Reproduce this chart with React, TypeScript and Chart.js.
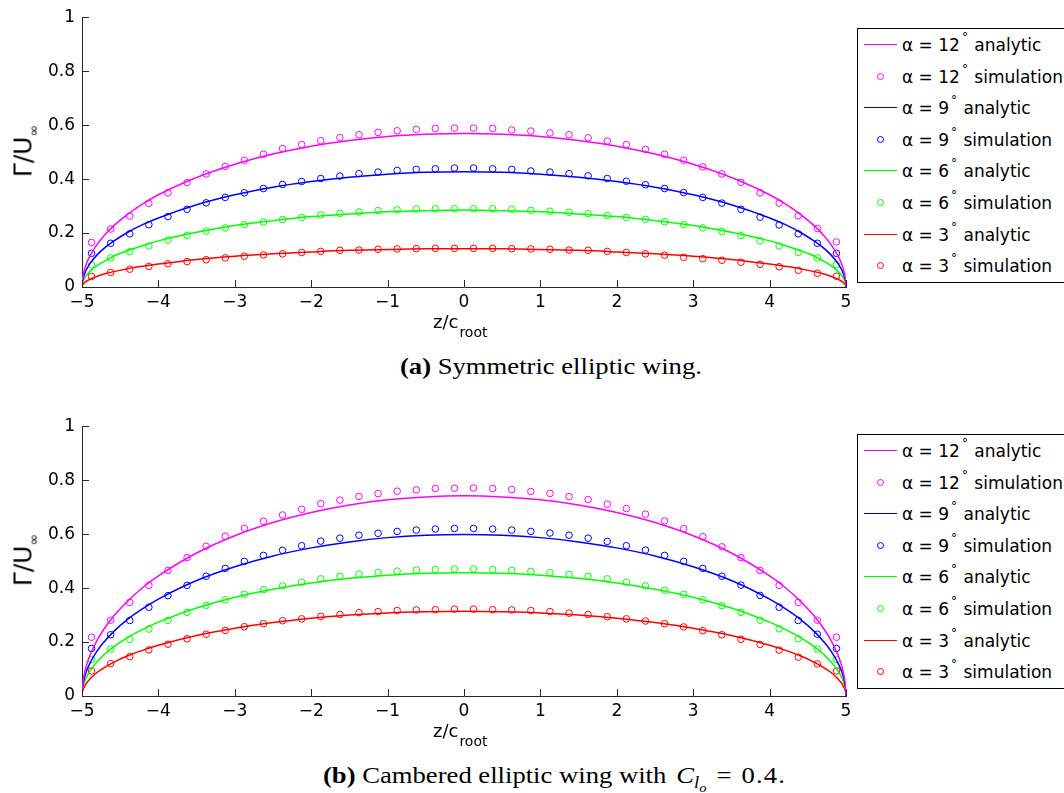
import React, { useEffect, useRef } from "react";
import { Chart, registerables } from "chart.js";

Chart.register(...registerables);

// Spanwise stations of the simulation (lifting-line) points
const Z_SIM = [
  -4.875, -4.625, -4.375, -4.125, -3.875, -3.625, -3.375, -3.125, -2.875, -2.625,
  -2.375, -2.125, -1.875, -1.625, -1.375, -1.125, -0.875, -0.625, -0.375, -0.125,
  0.125, 0.375, 0.625, 0.875, 1.125, 1.375, 1.625, 1.875, 2.125, 2.375,
  2.625, 2.875, 3.125, 3.375, 3.625, 3.875, 4.125, 4.375, 4.625, 4.875,
];

// Spanwise stations of the analytic curves (denser near the tips)
const Z_LINE = [
  -5, -4.998, -4.99, -4.95, -4.9, -4.8, -4.7, -4.6, -4.4, -4.2, -4, -3.5, -3, -2.5, -2, -1.5, -1, -0.5,
  0,
  0.5, 1, 1.5, 2, 2.5, 3, 3.5, 4, 4.2, 4.4, 4.6, 4.7, 4.8, 4.9, 4.95, 4.99, 4.998, 5,
];

const X_TICKS = [-5, -4, -3, -2, -1, 0, 1, 2, 3, 4, 5];
const Y_TICKS = [0, 0.2, 0.4, 0.6, 0.8, 1];
const ANGLES = [12, 9, 6, 3];

// (a) symmetric elliptic wing — analytic
const symLine12 = [0, 0.016, 0.036, 0.08, 0.113, 0.159, 0.194, 0.223, 0.27, 0.309, 0.342, 0.406, 0.455, 0.493, 0.522, 0.543, 0.558, 0.566, 0.569, 0.566, 0.558, 0.543, 0.522, 0.493, 0.455, 0.406, 0.342, 0.309, 0.27, 0.223, 0.194, 0.159, 0.113, 0.08, 0.036, 0.016, 0];
const symLine9 = [0, 0.012, 0.027, 0.06, 0.085, 0.12, 0.146, 0.167, 0.203, 0.232, 0.256, 0.305, 0.342, 0.37, 0.391, 0.407, 0.418, 0.425, 0.427, 0.425, 0.418, 0.407, 0.391, 0.37, 0.342, 0.305, 0.256, 0.232, 0.203, 0.167, 0.146, 0.12, 0.085, 0.06, 0.027, 0.012, 0];
const symLine6 = [0, 0.008, 0.018, 0.04, 0.057, 0.08, 0.097, 0.112, 0.135, 0.154, 0.171, 0.203, 0.228, 0.246, 0.261, 0.271, 0.279, 0.283, 0.285, 0.283, 0.279, 0.271, 0.261, 0.246, 0.228, 0.203, 0.171, 0.154, 0.135, 0.112, 0.097, 0.08, 0.057, 0.04, 0.018, 0.008, 0];
const symLine3 = [0, 0.004, 0.009, 0.02, 0.028, 0.04, 0.049, 0.056, 0.068, 0.077, 0.085, 0.102, 0.114, 0.123, 0.13, 0.136, 0.139, 0.142, 0.142, 0.142, 0.139, 0.136, 0.13, 0.123, 0.114, 0.102, 0.085, 0.077, 0.068, 0.056, 0.049, 0.04, 0.028, 0.02, 0.009, 0.004, 0];

// (a) symmetric elliptic wing — simulation
const symSim12 = [0.165, 0.215, 0.263, 0.31, 0.349, 0.387, 0.419, 0.447, 0.47, 0.492, 0.513, 0.528, 0.542, 0.554, 0.564, 0.573, 0.579, 0.584, 0.588, 0.589, 0.589, 0.588, 0.582, 0.578, 0.571, 0.564, 0.553, 0.541, 0.528, 0.51, 0.492, 0.47, 0.445, 0.419, 0.388, 0.349, 0.311, 0.264, 0.217, 0.167];
const symSim9 = [0.125, 0.162, 0.197, 0.231, 0.261, 0.288, 0.312, 0.332, 0.349, 0.365, 0.38, 0.391, 0.402, 0.411, 0.42, 0.426, 0.432, 0.436, 0.438, 0.441, 0.441, 0.438, 0.436, 0.43, 0.426, 0.42, 0.412, 0.402, 0.392, 0.379, 0.365, 0.35, 0.332, 0.311, 0.288, 0.259, 0.23, 0.197, 0.162, 0.125];
const symSim6 = [0.082, 0.108, 0.131, 0.152, 0.174, 0.191, 0.207, 0.219, 0.231, 0.241, 0.25, 0.258, 0.267, 0.273, 0.278, 0.283, 0.286, 0.289, 0.29, 0.29, 0.29, 0.29, 0.288, 0.284, 0.281, 0.277, 0.272, 0.265, 0.258, 0.251, 0.242, 0.231, 0.219, 0.206, 0.19, 0.171, 0.152, 0.128, 0.108, 0.083];
const symSim3 = [0.039, 0.054, 0.066, 0.076, 0.086, 0.094, 0.101, 0.108, 0.114, 0.119, 0.123, 0.128, 0.132, 0.136, 0.137, 0.14, 0.141, 0.142, 0.143, 0.143, 0.143, 0.143, 0.142, 0.141, 0.14, 0.137, 0.136, 0.132, 0.128, 0.123, 0.118, 0.11, 0.105, 0.099, 0.092, 0.084, 0.075, 0.062, 0.051, 0.04];

// (b) cambered elliptic wing — analytic
const camLine12 = [0, 0.021, 0.047, 0.105, 0.148, 0.208, 0.253, 0.291, 0.352, 0.403, 0.445, 0.53, 0.594, 0.643, 0.68, 0.708, 0.727, 0.738, 0.742, 0.738, 0.727, 0.708, 0.68, 0.643, 0.594, 0.53, 0.445, 0.403, 0.352, 0.291, 0.253, 0.208, 0.148, 0.105, 0.047, 0.021, 0];
const camLine9 = [0, 0.017, 0.038, 0.085, 0.119, 0.168, 0.204, 0.235, 0.285, 0.325, 0.359, 0.428, 0.479, 0.519, 0.549, 0.571, 0.587, 0.596, 0.599, 0.596, 0.587, 0.571, 0.549, 0.519, 0.479, 0.428, 0.359, 0.325, 0.285, 0.235, 0.204, 0.168, 0.119, 0.085, 0.038, 0.017, 0];
const camLine6 = [0, 0.013, 0.029, 0.064, 0.091, 0.128, 0.156, 0.179, 0.217, 0.248, 0.274, 0.326, 0.366, 0.396, 0.419, 0.436, 0.448, 0.455, 0.457, 0.455, 0.448, 0.436, 0.419, 0.396, 0.366, 0.326, 0.274, 0.248, 0.217, 0.179, 0.156, 0.128, 0.091, 0.064, 0.029, 0.013, 0];
const camLine3 = [0, 0.009, 0.02, 0.044, 0.062, 0.088, 0.107, 0.123, 0.149, 0.17, 0.188, 0.224, 0.251, 0.272, 0.288, 0.3, 0.308, 0.312, 0.314, 0.312, 0.308, 0.3, 0.288, 0.272, 0.251, 0.224, 0.188, 0.17, 0.149, 0.123, 0.107, 0.088, 0.062, 0.044, 0.02, 0.009, 0];

// (b) cambered elliptic wing — simulation
const camSim12 = [0.218, 0.281, 0.347, 0.41, 0.465, 0.513, 0.555, 0.592, 0.622, 0.648, 0.671, 0.692, 0.713, 0.726, 0.74, 0.75, 0.759, 0.764, 0.769, 0.77, 0.771, 0.769, 0.765, 0.758, 0.751, 0.739, 0.728, 0.711, 0.695, 0.674, 0.649, 0.62, 0.59, 0.553, 0.513, 0.465, 0.41, 0.347, 0.281, 0.218];
const camSim9 = [0.176, 0.227, 0.28, 0.329, 0.372, 0.41, 0.444, 0.473, 0.499, 0.521, 0.54, 0.557, 0.574, 0.585, 0.596, 0.603, 0.61, 0.615, 0.619, 0.621, 0.621, 0.619, 0.615, 0.61, 0.604, 0.596, 0.585, 0.573, 0.557, 0.541, 0.521, 0.499, 0.473, 0.444, 0.411, 0.373, 0.329, 0.28, 0.229, 0.176];
const camSim6 = [0.135, 0.174, 0.21, 0.248, 0.28, 0.31, 0.336, 0.357, 0.377, 0.394, 0.408, 0.422, 0.434, 0.444, 0.452, 0.458, 0.463, 0.467, 0.469, 0.471, 0.471, 0.469, 0.466, 0.462, 0.457, 0.451, 0.444, 0.434, 0.422, 0.408, 0.392, 0.377, 0.357, 0.335, 0.31, 0.281, 0.249, 0.212, 0.174, 0.135];
const camSim3 = [0.093, 0.12, 0.146, 0.171, 0.192, 0.212, 0.229, 0.243, 0.257, 0.268, 0.279, 0.286, 0.295, 0.302, 0.309, 0.313, 0.317, 0.319, 0.32, 0.322, 0.322, 0.32, 0.319, 0.317, 0.313, 0.307, 0.302, 0.294, 0.286, 0.278, 0.268, 0.256, 0.242, 0.227, 0.21, 0.191, 0.17, 0.144, 0.119, 0.093];

const COLORS = ["#ff00ff", "#0000ff", "#00ff00", "#ff0000"];
const AXIS_COLOR = "#262626";
const SANS = '"DejaVu Sans", sans-serif';
const SERIF = '"Liberation Serif", "Times New Roman", serif';

const CANVAS_W = 860;
const CANVAS_H = 330;

const toXY = (xs: number[], ys: number[]) => xs.map((x, i) => ({ x, y: ys[i] }));

// MATLAB-style tick marks pointing into the axes
const inwardTicks = {
  id: "inwardTicks",
  afterDraw(chart: any) {
    const { ctx, chartArea, scales } = chart;
    ctx.save();
    ctx.strokeStyle = AXIS_COLOR;
    ctx.lineWidth = 1;
    ctx.beginPath();
    X_TICKS.forEach((v) => {
      const px = Math.round(scales.x.getPixelForValue(v)) + 0.5;
      ctx.moveTo(px, chartArea.bottom);
      ctx.lineTo(px, chartArea.bottom - 7);
    });
    Y_TICKS.forEach((v) => {
      const py = Math.round(scales.y.getPixelForValue(v)) + 0.5;
      ctx.moveTo(chartArea.left, py);
      ctx.lineTo(chartArea.left + 7, py);
    });
    ctx.stroke();
    ctx.restore();
  },
};

function WingChart({ lines, sims }: { lines: number[][]; sims: number[][] }) {
  const ref = useRef<HTMLCanvasElement>(null);
  useEffect(() => {
    if (!ref.current) return;
    const datasets: any[] = [];
    lines.forEach((ys, i) => {
      datasets.push({
        type: "line",
        data: toXY(Z_LINE, ys),
        borderColor: COLORS[i],
        borderWidth: 1.5,
        pointRadius: 0,
        cubicInterpolationMode: "monotone",
        fill: false,
      });
      datasets.push({
        type: "line",
        data: toXY(Z_SIM, sims[i]),
        showLine: false,
        borderColor: COLORS[i],
        backgroundColor: "rgba(0,0,0,0)",
        pointStyle: "circle",
        pointRadius: 3.3,
        pointBorderWidth: 1,
        pointBorderColor: COLORS[i],
        pointBackgroundColor: "rgba(0,0,0,0)",
      });
    });
    const tickFont = { family: SANS, size: 17 };
    const chart = new Chart(ref.current, {
      type: "line",
      data: { datasets },
      plugins: [inwardTicks],
      options: {
        animation: false,
        responsive: false,
        events: [],
        layout: { padding: { left: 0, right: 14, top: 15, bottom: 0 } },
        plugins: { legend: { display: false }, tooltip: { enabled: false } },
        scales: {
          x: {
            type: "linear",
            min: -5,
            max: 5,
            afterBuildTicks: (s: any) => {
              s.ticks = X_TICKS.map((v) => ({ value: v }));
            },
            afterFit: (s: any) => {
              s.height = 43;
            },
            ticks: {
              font: tickFont,
              color: "#000",
              padding: 5,
              maxRotation: 0,
              callback: (v: any) => (Number(v) < 0 ? "\u2212" + Math.abs(Number(v)) : String(v)),
            },
            grid: { display: false, drawTicks: false },
            border: { display: true, color: AXIS_COLOR, width: 1 },
          },
          y: {
            type: "linear",
            min: 0,
            max: 1,
            afterBuildTicks: (s: any) => {
              s.ticks = Y_TICKS.map((v) => ({ value: v }));
            },
            afterFit: (s: any) => {
              s.width = 82;
            },
            ticks: {
              font: tickFont,
              color: "#000",
              padding: 7,
              callback: (v: any) => String(Number(v)),
            },
            grid: { display: false, drawTicks: false },
            border: { display: true, color: AXIS_COLOR, width: 1 },
          },
        },
      } as any,
    });
    return () => chart.destroy();
  }, [lines, sims]);
  return <canvas ref={ref} width={CANVAS_W} height={CANVAS_H} style={{ display: "block", width: CANVAS_W, height: CANVAS_H }} />;
}

function Legend({ top }: { top: number }) {
  const rowH = 31.6;
  const rows: React.ReactNode[] = [];
  ANGLES.forEach((a, i) => {
    ["analytic", "simulation"].forEach((kind, k) => {
      const idx = i * 2 + k;
      const rowTop = Math.round(idx * rowH);
      rows.push(
        <div key={idx} style={{ position: "absolute", left: 0, top: rowTop, height: 32, width: "100%" }}>
          {kind === "analytic" ? (
            <div style={{ position: "absolute", left: 6, top: 15, width: 33, height: 1, background: COLORS[i] }} />
          ) : (
            <div
              style={{
                position: "absolute",
                left: 19,
                top: 12,
                width: 7,
                height: 7,
                boxSizing: "border-box",
                border: `1px solid ${COLORS[i]}`,
                borderRadius: "50%",
              }}
            />
          )}
          <div
            style={{
              position: "absolute",
              left: 44,
              top: 0,
              height: 32,
              lineHeight: "32px",
              fontFamily: SANS,
              fontSize: 17,
              whiteSpace: "nowrap",
              color: "#000",
            }}
          >
            α = {a}
            <span style={{ fontSize: 12, position: "relative", top: -10, marginLeft: 2, marginRight: 1 }}>°</span> {kind}
          </div>
        </div>
      );
    });
  });
  return (
    <div
      style={{
        position: "absolute",
        left: 857,
        top,
        width: 230,
        height: Math.round(rowH * 8) + 2,
        border: "1px solid #000",
        boxSizing: "border-box",
        background: "#fff",
      }}
    >
      {rows}
    </div>
  );
}

function AxisTitles({ offset }: { offset: number }) {
  return (
    <>
      <div
        style={{
          position: "absolute",
          left: 25,
          top: 151 + offset,
          transform: "translate(-50%, -50%) rotate(-90deg)",
          fontFamily: SANS,
          fontSize: 25,
          lineHeight: "25px",
          whiteSpace: "nowrap",
          color: "#000",
        }}
      >
        Γ/U<span style={{ fontSize: 14, position: "relative", top: 7 }}>∞</span>
      </div>
      <div
        style={{
          position: "absolute",
          left: 433,
          top: 313 + offset,
          fontFamily: SANS,
          fontSize: 18,
          lineHeight: "18px",
          whiteSpace: "nowrap",
          color: "#000",
        }}
      >
        z/c<span style={{ fontSize: 14, position: "relative", top: 9, marginLeft: 1 }}>root</span>
      </div>
    </>
  );
}

export default function App() {
  const off = 409;
  return (
    <div style={{ position: "absolute", left: 0, top: 0, width: 1064, height: 793, overflow: "hidden", background: "#fff" }}>
      <div style={{ position: "absolute", left: 0, top: 0 }}>
        <WingChart lines={[symLine12, symLine9, symLine6, symLine3]} sims={[symSim12, symSim9, symSim6, symSim3]} />
      </div>
      <div style={{ position: "absolute", left: 0, top: off }}>
        <WingChart lines={[camLine12, camLine9, camLine6, camLine3]} sims={[camSim12, camSim9, camSim6, camSim3]} />
      </div>
      <AxisTitles offset={0} />
      <AxisTitles offset={off} />
      <Legend top={28} />
      <Legend top={434} />
      <div
        style={{
          position: "absolute",
          left: 400,
          top: 354,
          fontFamily: SERIF,
          fontSize: 24,
          lineHeight: "24px",
          whiteSpace: "nowrap",
          transform: "scaleX(1.11)",
          transformOrigin: "left center",
          color: "#000",
        }}
      >
        <b>(a)</b> Symmetric elliptic wing.
      </div>
      <div
        style={{
          position: "absolute",
          left: 323,
          top: 763,
          fontFamily: SERIF,
          fontSize: 24,
          lineHeight: "24px",
          whiteSpace: "nowrap",
          transform: "scaleX(1.11)",
          transformOrigin: "left center",
          color: "#000",
        }}
      >
        <b>(b)</b> Cambered elliptic wing with <i style={{ marginLeft: 3 }}>C</i>
        <span style={{ position: "relative", top: 5, fontSize: 17, fontStyle: "italic" }}>
          l<span style={{ position: "relative", top: 4, fontSize: 13 }}>o</span>
        </span>
        <span style={{ marginLeft: 9, marginRight: 9 }}>=</span>
        <span style={{ letterSpacing: 1 }}>0.4.</span>
      </div>
    </div>
  );
}
